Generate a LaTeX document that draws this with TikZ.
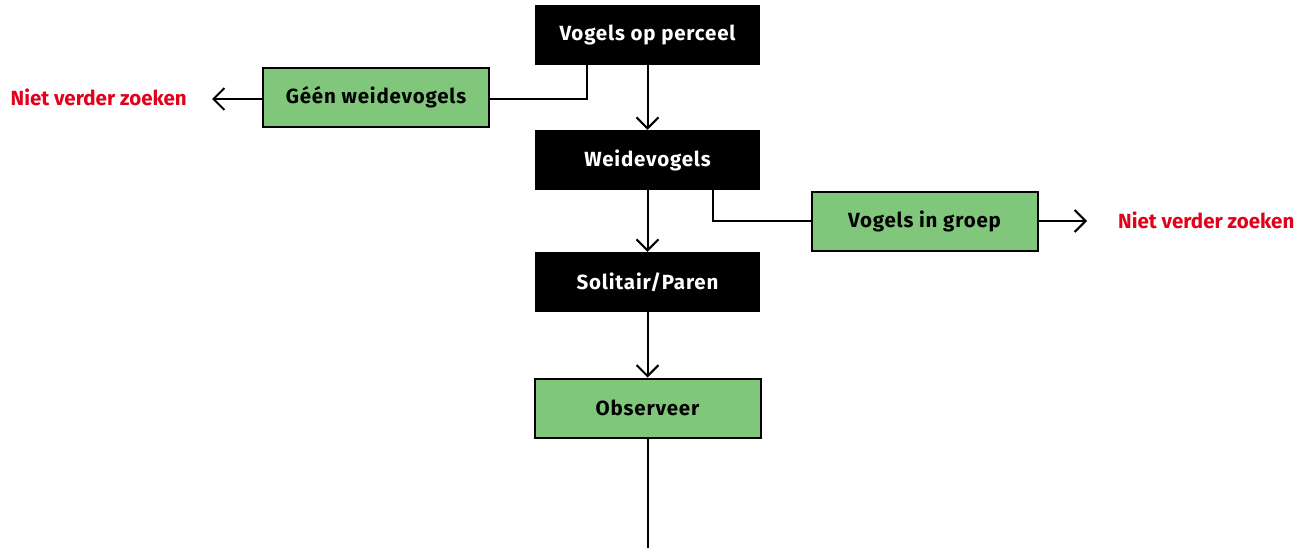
\documentclass[tikz,border=0pt]{standalone}
\usepackage{fontspec}
\setmainfont{Fira Sans}
\newfontfamily\spacedfont[LetterSpace=4.0]{Fira Sans}
\usetikzlibrary{arrows.meta}
\definecolor{boxgreen}{HTML}{80C77B}
\definecolor{stopred}{HTML}{E2001A}
\begin{document}
\begin{tikzpicture}[x=1pt,y=-1pt,
  blackbox/.style={fill=black,text=white,minimum width=225pt,minimum height=60pt,inner sep=0pt,font=\spacedfont\fontsize{20.5}{24}\selectfont\bfseries},
  greenbox/.style={fill=boxgreen,draw=black,line width=2pt,text=black,minimum width=226pt,minimum height=59pt,inner sep=0pt,font=\spacedfont\fontsize{20.5}{24}\selectfont\bfseries},
  stoptext/.style={text=stopred,inner sep=0pt,font=\fontsize{20.5}{24}\selectfont\bfseries},
  conn/.style={line width=2pt,draw=black},
  arr/.style={conn,-{Straight Barb[length=11pt,width=22pt,line width=2pt]}}]
\useasboundingbox (0,0) rectangle (1303,548);
\node[blackbox] (vop) at (647.5,35) {Vogels op perceel};
\node[greenbox] (geen) at (376,97.5) {Géén weidevogels};
\node[blackbox] (wei) at (647.5,160) {Weidevogels};
\node[greenbox] (groep) at (924.5,221.5) {Vogels in groep};
\node[blackbox] (sol) at (647.5,282) {Solitair/Paren};
\node[greenbox] (obs) at (647.5,408) {Observeer};
\node[stoptext,anchor=east] (stop1) at (187,97) {Niet verder zoeken};
\node[stoptext,anchor=west] (stop2) at (1118,220) {Niet verder zoeken};
\coordinate (bend1) at (587,99);
\coordinate (bend2) at (713,221);
\coordinate (arrowend1) at (212,99);
\coordinate (arrowend2) at (1087,221);
\coordinate (bottomend) at (647.5,548);
\draw[conn] (vop.south -| bend1) -- (bend1) -- (geen.east |- bend1);
\draw[arr] (vop.south) -- (wei.north);
\draw[arr] (geen.west |- arrowend1) -- (arrowend1);
\draw[conn] (wei.south -| bend2) -- (bend2) -- (groep.west |- bend2);
\draw[arr] (wei.south) -- (sol.north);
\draw[arr] (groep.east |- arrowend2) -- (arrowend2);
\draw[arr] (sol.south) -- (obs.north);
\draw[conn] (obs.south) -- (bottomend);
\end{tikzpicture}
\end{document}
